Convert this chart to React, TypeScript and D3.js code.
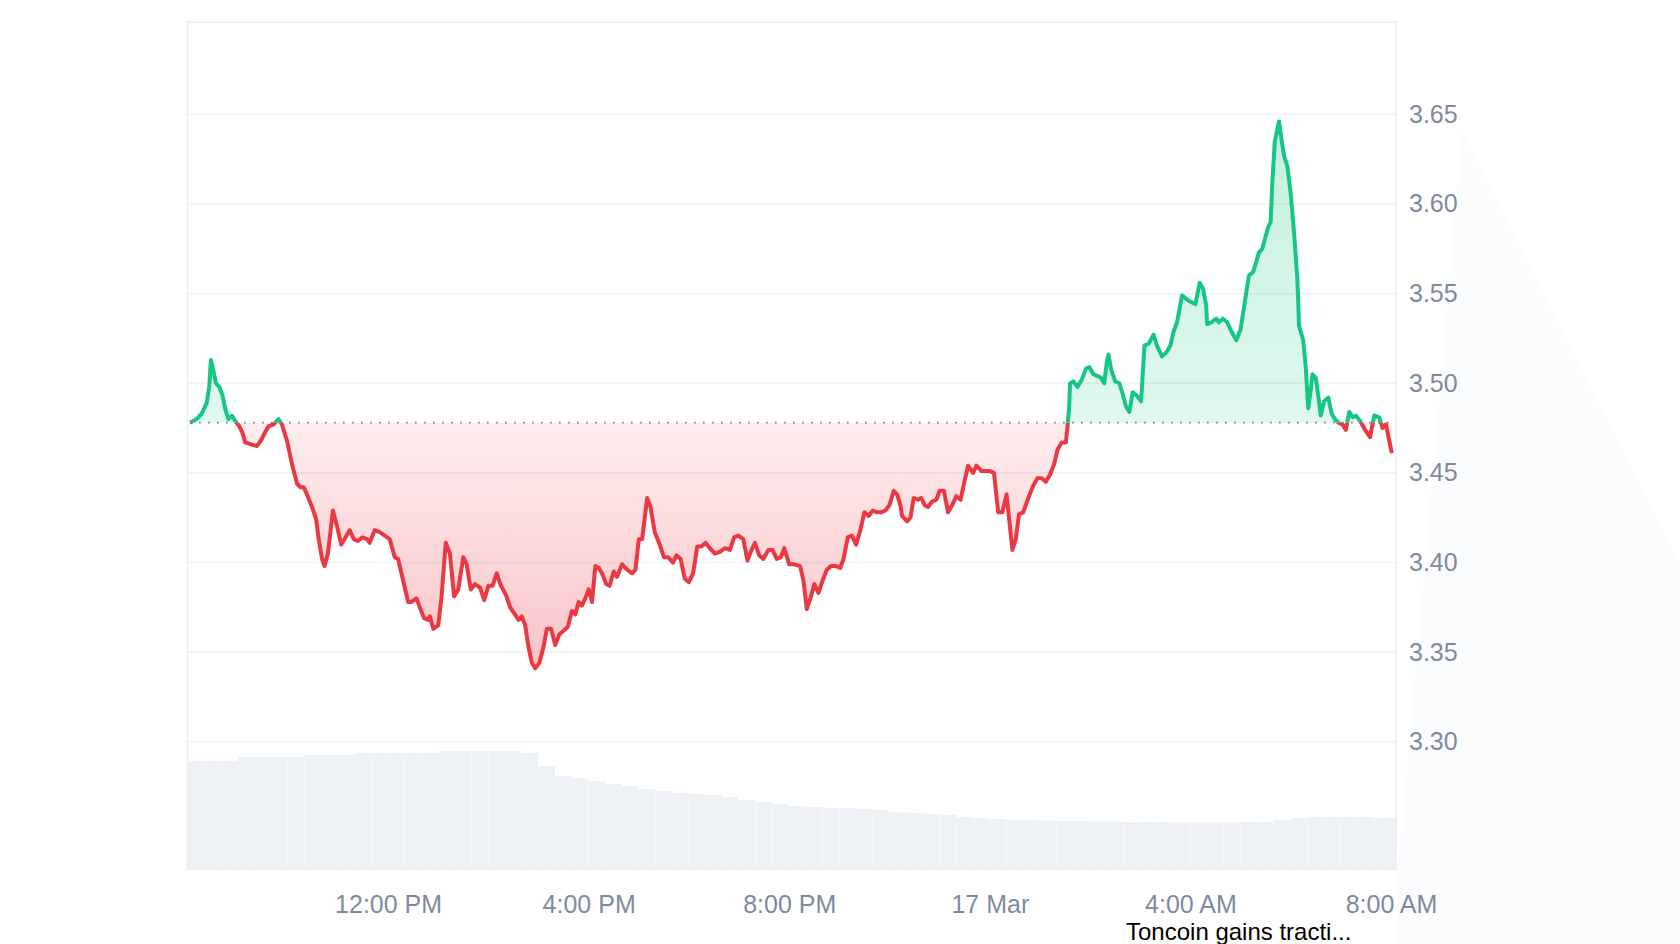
import { useEffect, useRef } from 'react';
import * as d3 from 'd3';

// 24h window, minutes counted from 16 Mar 08:00
const START = new Date(2025, 2, 16, 8, 0);
const WINDOW_MINUTES = 1446;
const BASELINE_PRICE = 3.478;

const priceMinutes = [
  3, 11, 17, 23, 26, 28, 31, 34, 38, 42, 45, 49, 53, 57, 62, 66, 69, 75, 83, 88,
  92, 97, 103, 109, 113, 119, 125, 131, 135, 139, 143, 149, 154, 157, 161, 164, 168, 174, 179, 184,
  189, 194, 199, 204, 209, 215, 218, 224, 230, 236, 242, 248, 252, 258, 264, 268, 274, 278, 283, 288,
  290, 294, 300, 304, 309, 314, 319, 324, 330, 334, 339, 344, 350, 355, 360, 365, 370, 375, 381, 386,
  392, 396, 400, 404, 408, 412, 416, 421, 426, 430, 435, 440, 445, 450, 455, 460, 464, 468, 472, 476,
  480, 484, 488, 492, 496, 501, 505, 510, 514, 520, 526, 532, 536, 540, 544, 550, 554, 559, 565, 570,
  575, 581, 585, 590, 595, 600, 605, 610, 615, 620, 625, 631, 637, 643, 649, 654, 659, 665, 670, 674,
  679, 684, 689, 695, 700, 705, 710, 714, 720, 726, 733, 737, 741, 746, 750, 755, 760, 765, 770, 776,
  781, 785, 790, 795, 800, 805, 810, 815, 820, 825, 830, 835, 840, 845, 849, 853, 855, 861, 865, 869,
  874, 878, 882, 886, 891, 896, 900, 905, 910, 915, 920, 925, 930, 934, 940, 944, 950, 955, 960, 965,
  970, 975, 980, 985, 987, 991, 995, 1000, 1006, 1012, 1017, 1022, 1027, 1032, 1037, 1041, 1046, 1051, 1053, 1055,
  1056, 1060, 1065, 1070, 1075, 1079, 1084, 1089, 1093, 1097, 1100, 1102, 1105, 1110, 1115, 1119, 1123, 1127, 1131, 1136,
  1141, 1145, 1150, 1156, 1160, 1166, 1171, 1176, 1180, 1184, 1190, 1198, 1206, 1211, 1215, 1219, 1220, 1225, 1231, 1234,
  1239, 1244, 1249, 1255, 1260, 1265, 1270, 1275, 1279, 1282, 1286, 1290, 1293, 1296, 1298, 1301, 1306, 1309, 1312, 1316,
  1320, 1324, 1328, 1330, 1335, 1338, 1341, 1344, 1346, 1350, 1353, 1356, 1360, 1365, 1369, 1373, 1377, 1382, 1386, 1390,
  1394, 1398, 1403, 1409, 1415, 1420, 1426, 1430, 1434, 1437, 1441,
];

const priceValues = [
  3.478, 3.480, 3.483, 3.489, 3.498, 3.513, 3.507, 3.500, 3.498, 3.493, 3.486, 3.480, 3.482, 3.479, 3.476, 3.472, 3.467, 3.466, 3.465, 3.468,
  3.472, 3.476, 3.477, 3.480, 3.477, 3.468, 3.455, 3.444, 3.442, 3.442, 3.438, 3.431, 3.424, 3.413, 3.402, 3.398, 3.405, 3.429, 3.420, 3.410,
  3.414, 3.418, 3.413, 3.412, 3.414, 3.413, 3.411, 3.418, 3.417, 3.415, 3.413, 3.403, 3.402, 3.390, 3.378, 3.378, 3.380, 3.375, 3.369, 3.368,
  3.370, 3.363, 3.365, 3.381, 3.411, 3.405, 3.381, 3.385, 3.403, 3.399, 3.385, 3.388, 3.386, 3.379, 3.387, 3.387, 3.394, 3.387, 3.382, 3.375,
  3.371, 3.368, 3.370, 3.365, 3.353, 3.344, 3.341, 3.344, 3.353, 3.363, 3.363, 3.354, 3.360, 3.362, 3.364, 3.373, 3.371, 3.378, 3.376, 3.380,
  3.385, 3.378, 3.398, 3.397, 3.394, 3.388, 3.387, 3.395, 3.392, 3.399, 3.396, 3.394, 3.396, 3.413, 3.413, 3.436, 3.431, 3.417, 3.410, 3.403,
  3.403, 3.400, 3.404, 3.402, 3.391, 3.389, 3.394, 3.409, 3.409, 3.411, 3.408, 3.405, 3.406, 3.408, 3.407, 3.414, 3.415, 3.413, 3.401, 3.406,
  3.411, 3.404, 3.402, 3.407, 3.407, 3.402, 3.403, 3.408, 3.399, 3.399, 3.398, 3.390, 3.374, 3.381, 3.388, 3.383, 3.390, 3.396, 3.398, 3.398,
  3.397, 3.402, 3.414, 3.415, 3.410, 3.418, 3.428, 3.426, 3.429, 3.428, 3.428, 3.429, 3.432, 3.440, 3.438, 3.432, 3.426, 3.423, 3.425, 3.436,
  3.435, 3.436, 3.432, 3.431, 3.434, 3.435, 3.440, 3.440, 3.428, 3.432, 3.437, 3.435, 3.446, 3.454, 3.450, 3.454, 3.451, 3.451, 3.451, 3.450,
  3.428, 3.428, 3.438, 3.416, 3.407, 3.413, 3.427, 3.428, 3.436, 3.443, 3.447, 3.447, 3.445, 3.449, 3.455, 3.463, 3.467, 3.467, 3.476, 3.487,
  3.500, 3.501, 3.498, 3.502, 3.508, 3.509, 3.505, 3.504, 3.503, 3.500, 3.512, 3.516, 3.508, 3.501, 3.500, 3.494, 3.487, 3.484, 3.495, 3.493,
  3.490, 3.521, 3.522, 3.527, 3.521, 3.515, 3.517, 3.521, 3.529, 3.534, 3.549, 3.546, 3.544, 3.556, 3.553, 3.543, 3.533, 3.534, 3.536, 3.534,
  3.536, 3.534, 3.529, 3.524, 3.530, 3.545, 3.560, 3.562, 3.568, 3.573, 3.575, 3.582, 3.587, 3.590, 3.612, 3.635, 3.646, 3.636, 3.627, 3.621,
  3.606, 3.584, 3.558, 3.532, 3.524, 3.509, 3.486, 3.496, 3.505, 3.503, 3.493, 3.482, 3.490, 3.492, 3.483, 3.480, 3.478, 3.477, 3.474, 3.484,
  3.481, 3.482, 3.479, 3.474, 3.470, 3.482, 3.481, 3.475, 3.477, 3.470, 3.461,
];

// volume, one bar per 20 minutes (millions, rough)
const VOLUME_STEP = 20;
const volumeValues = [
  109, 109, 109, 113, 113, 113, 113, 115, 115, 115, 117, 117, 117, 117, 117, 119, 119, 119, 119, 119,
  117, 104, 94, 92, 89, 86, 84, 81, 79, 77, 76, 75, 73, 70, 68, 66, 64, 63, 62, 62,
  61, 60, 58, 57, 56, 55, 53, 52, 51, 50, 50, 49.5, 49, 49, 48.5, 48.5, 48, 48, 48, 47.5,
  47.5, 47.5, 47.5, 48, 48, 50, 52, 53, 53, 53, 53, 52, 52,
];

const yTicks = [3.30, 3.35, 3.40, 3.45, 3.50, 3.55, 3.60, 3.65];
const xTickHours = [4, 8, 12, 16, 20, 24];
const newsLabel = 'Toncoin gains tracti...';

const GREEN = '#16c784';
const RED = '#ea3943';
const GRID = '#eff2f5';
const LABEL = '#808a9d';
const FONT = "'Liberation Sans', Arial, sans-serif";

const atMinute = (m: number) => new Date(START.getTime() + m * 60000);

export default function App() {
  const svgRef = useRef<SVGSVGElement>(null);

  useEffect(() => {
    if (!svgRef.current) return;
    const svg = d3.select(svgRef.current);
    svg.selectAll('*').remove();

    const width = 1680;
    const height = 944;
    const margin = { top: 22, right: 284, bottom: 74, left: 187.5 };
    const left = margin.left;
    const right = width - margin.right;
    const top = margin.top;
    const bottom = height - margin.bottom;

    const x = d3.scaleTime()
      .domain([START, atMinute(WINDOW_MINUTES)])
      .range([left, right]);

    const y = d3.scaleLinear()
      .domain([3.30, 3.65])
      .range([741.8, 114.3]);

    const yVol = d3.scaleLinear()
      .domain([0, 150])
      .range([bottom, bottom - 150]);

    const data: Array<[Date, number]> = priceMinutes.map((m, i) => [atMinute(m), priceValues[i]]);
    const baseY = y(BASELINE_PRICE);

    const defs = svg.append('defs');

    defs.append('clipPath').attr('id', 'plot-clip')
      .append('rect')
      .attr('x', left).attr('y', top)
      .attr('width', right - left).attr('height', bottom - top);

    defs.append('clipPath').attr('id', 'clip-up')
      .append('rect')
      .attr('x', left).attr('y', 0)
      .attr('width', right - left).attr('height', baseY);

    defs.append('clipPath').attr('id', 'clip-down')
      .append('rect')
      .attr('x', left).attr('y', baseY)
      .attr('width', right - left).attr('height', bottom - baseY);

    const gUp = defs.append('linearGradient')
      .attr('id', 'grad-up')
      .attr('gradientUnits', 'userSpaceOnUse')
      .attr('x1', 0).attr('x2', 0)
      .attr('y1', y(3.65)).attr('y2', baseY);
    gUp.append('stop').attr('offset', '0%').attr('stop-color', GREEN).attr('stop-opacity', 0.26);
    gUp.append('stop').attr('offset', '100%').attr('stop-color', GREEN).attr('stop-opacity', 0.13);

    const gDown = defs.append('linearGradient')
      .attr('id', 'grad-down')
      .attr('gradientUnits', 'userSpaceOnUse')
      .attr('x1', 0).attr('x2', 0)
      .attr('y1', baseY).attr('y2', y(3.34));
    gDown.append('stop').attr('offset', '0%').attr('stop-color', RED).attr('stop-opacity', 0.09);
    gDown.append('stop').attr('offset', '100%').attr('stop-color', RED).attr('stop-opacity', 0.3);

    // faint watermark shape on the right
    svg.append('polygon')
      .attr('points', '1462,132 1680,565 1680,944 1398,944 1398,870')
      .attr('fill', '#fbfcfe');

    // volume bars
    svg.append('g')
      .attr('clip-path', 'url(#plot-clip)')
      .selectAll('rect')
      .data(volumeValues)
      .enter().append('rect')
      .attr('x', (d, i) => x(atMinute(i * VOLUME_STEP)))
      .attr('y', d => yVol(d))
      .attr('width', (d, i) => x(atMinute((i + 1) * VOLUME_STEP)) - x(atMinute(i * VOLUME_STEP)) - 0.3)
      .attr('height', d => bottom - yVol(d))
      .attr('fill', '#eef1f5');

    // grid lines
    svg.append('g')
      .selectAll('line')
      .data(yTicks)
      .enter().append('line')
      .attr('x1', left).attr('x2', right)
      .attr('y1', d => y(d)).attr('y2', d => y(d))
      .attr('stroke', GRID)
      .attr('stroke-width', 1.6);

    // frame
    svg.append('path')
      .attr('d', `M${left},${bottom}V${top}H${right}V${bottom}`)
      .attr('fill', 'none')
      .attr('stroke', '#eceff3')
      .attr('stroke-width', 1.6);

    const area = d3.area<[Date, number]>()
      .x(d => x(d[0]))
      .y0(baseY)
      .y1(d => y(d[1]));

    const line = d3.line<[Date, number]>()
      .x(d => x(d[0]))
      .y(d => y(d[1]));

    svg.append('path')
      .datum(data)
      .attr('clip-path', 'url(#clip-up)')
      .attr('d', area)
      .attr('fill', 'url(#grad-up)');

    svg.append('path')
      .datum(data)
      .attr('clip-path', 'url(#clip-down)')
      .attr('d', area)
      .attr('fill', 'url(#grad-down)');

    // opening price, dotted
    svg.append('line')
      .attr('x1', x(data[0][0])).attr('x2', right)
      .attr('y1', baseY).attr('y2', baseY)
      .attr('stroke', '#7d8591')
      .attr('stroke-width', 1.7)
      .attr('stroke-dasharray', '1.7 7.3');

    svg.append('path')
      .datum(data)
      .attr('clip-path', 'url(#clip-up)')
      .attr('d', line)
      .attr('fill', 'none')
      .attr('stroke', GREEN)
      .attr('stroke-width', 4)
      .attr('stroke-linejoin', 'round');

    svg.append('path')
      .datum(data)
      .attr('clip-path', 'url(#clip-down)')
      .attr('d', line)
      .attr('fill', 'none')
      .attr('stroke', RED)
      .attr('stroke-width', 4)
      .attr('stroke-linejoin', 'round');

    // y axis on the right
    const yAxis = svg.append('g')
      .attr('transform', `translate(${right},0)`)
      .call(d3.axisRight(y)
        .tickValues(yTicks)
        .tickSize(0)
        .tickPadding(13)
        .tickFormat(d => d3.format('.2f')(d as number)));
    yAxis.select('.domain').remove();
    yAxis.selectAll('text')
      .style('fill', LABEL)
      .style('font-size', '25px')
      .style('font-family', FONT);

    // x axis
    const fmt = (d: Date) => d.getHours() === 0 ? d3.timeFormat('%-d %b')(d) : d3.timeFormat('%-I:%M %p')(d);
    const xAxis = svg.append('g')
      .attr('transform', `translate(0,${bottom})`)
      .call(d3.axisBottom(x)
        .tickValues(xTickHours.map(h => atMinute(h * 60)))
        .tickSize(0)
        .tickPadding(25)
        .tickFormat(d => fmt(d as Date)));
    xAxis.select('.domain').remove();
    xAxis.selectAll('text')
      .style('fill', LABEL)
      .style('font-size', '25px')
      .style('font-family', FONT);

    // news marker label at the bottom edge
    svg.append('text')
      .attr('x', 1126)
      .attr('y', 940)
      .style('fill', '#000')
      .style('font-size', '24px')
      .style('font-family', FONT)
      .text(newsLabel);
  }, []);

  return (
    <svg
      ref={svgRef}
      width={1680}
      height={944}
      style={{ position: 'absolute', left: 0, top: 0, background: '#fff' }}
    ></svg>
  );
}
